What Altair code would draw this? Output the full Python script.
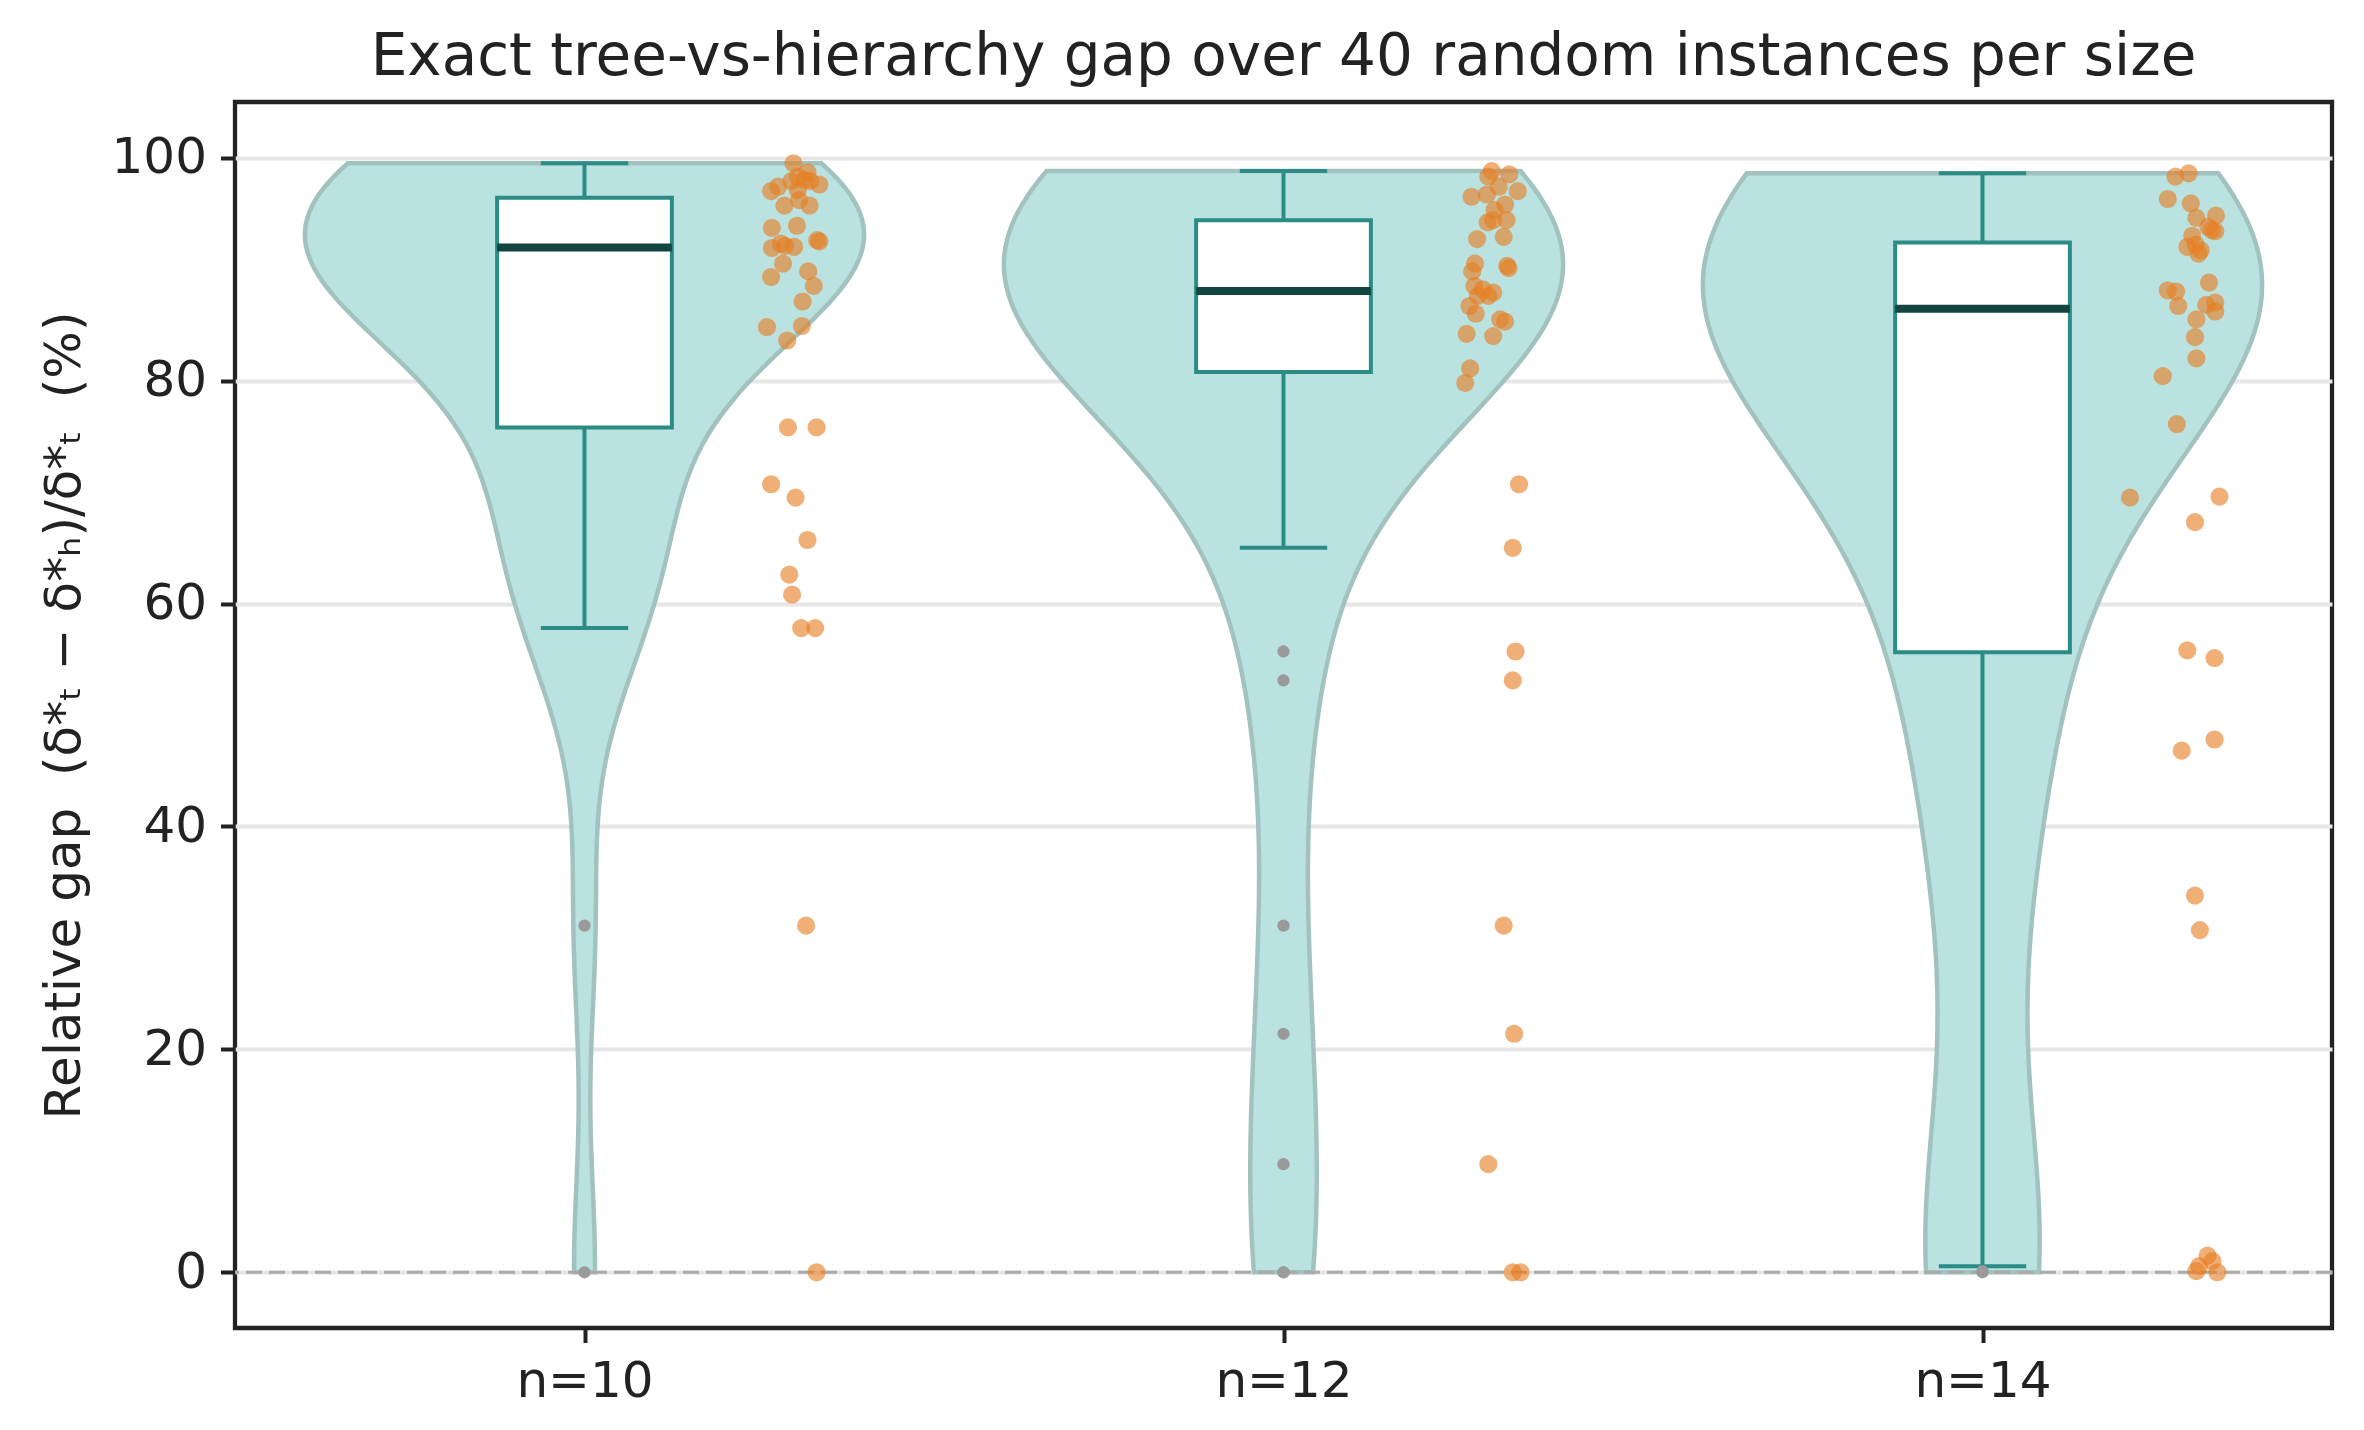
import altair as alt
import numpy as np
import pandas as pd

# ---------------- data ----------------
labels = ["n=10", "n=12", "n=14"]

vals_10 = [99.5, 98.7, 98.0, 97.9, 97.9, 97.6, 97.4, 97.0, 97.1, 95.7,
           96.2, 95.7, 93.7, 93.9, 92.6, 92.5, 91.9, 92.3, 92.1, 90.5,
           89.3, 89.8, 88.5, 87.1, 84.8, 84.9, 83.6, 98.3, 92.0,
           75.8, 75.8, 70.7, 69.5, 65.7, 62.6, 60.8, 57.8, 57.8, 31.1, 0.0]
jit_10 = [0.299, 0.319, 0.315, 0.323, 0.296, 0.336, 0.277, 0.267, 0.305, 0.286,
          0.307, 0.322, 0.268, 0.304, 0.333, 0.336, 0.268, 0.281, 0.287, 0.284,
          0.267, 0.320, 0.328, 0.312, 0.261, 0.311, 0.290, 0.305, 0.300,
          0.291, 0.332, 0.267, 0.302, 0.319, 0.293, 0.297, 0.310, 0.330, 0.317, 0.332]

vals_12 = [98.8, 98.3, 98.5, 97.4, 97.0, 96.5, 96.7, 95.8, 95.3, 94.2,
           94.4, 94.4, 92.7, 92.9, 90.5, 89.8, 90.3, 90.1, 88.5, 87.6,
           87.6, 86.7, 85.5, 85.3, 84.2, 84.0, 81.1, 79.8, 87.9, 88.2, 86.0,
           70.7, 65.0, 55.7, 53.1, 31.1, 21.4, 9.7, 0.0, 0.0]
jit_12 = [0.298, 0.293, 0.323, 0.308, 0.335, 0.269, 0.291, 0.317, 0.302, 0.292,
          0.300, 0.319, 0.277, 0.315, 0.274, 0.270, 0.320, 0.322, 0.273, 0.278,
          0.293, 0.266, 0.310, 0.317, 0.262, 0.300, 0.267, 0.260, 0.300, 0.285, 0.275,
          0.337, 0.328, 0.332, 0.328, 0.315, 0.330, 0.293, 0.328, 0.339]

vals_14 = [98.3, 98.6, 96.3, 95.9, 94.6, 94.8, 93.8, 93.4, 93.5, 92.0,
           92.2, 91.4, 91.7, 88.1, 88.0, 86.7, 88.8, 86.8, 87.0, 86.2,
           85.5, 83.9, 82.0, 80.4, 76.1, 93.0,
           69.5, 69.6, 67.3, 55.8, 55.1, 47.8, 46.8, 33.8, 30.7,
           0.1, 0.55, 1.5, 1.0, 0.0]
jit_14 = [0.276, 0.295, 0.265, 0.298, 0.306, 0.334, 0.323, 0.333, 0.328, 0.293,
          0.305, 0.309, 0.312, 0.265, 0.277, 0.280, 0.324, 0.320, 0.333, 0.333,
          0.306, 0.304, 0.306, 0.258, 0.278, 0.300,
          0.211, 0.339, 0.304, 0.293, 0.332, 0.332, 0.285, 0.304, 0.311,
          0.306, 0.310, 0.322, 0.329, 0.336]

y_ticks = [0, 20, 40, 60, 80, 100]
title_text = "Exact tree-vs-hierarchy gap over 40 random instances per size"
y_title = "Relative gap\u00a0\u00a0(δ*ₜ − δ*ₕ)/δ*ₜ\u00a0\u00a0(%)"

groups = [vals_10, vals_12, vals_14]
jitters = [jit_10, jit_12, jit_14]

rows = []
for i, (vs, js) in enumerate(zip(groups, jitters)):
    for v, j in zip(vs, js):
        rows.append({"group": labels[i], "pos": i, "value": v, "jit": j})
df = pd.DataFrame(rows)

# ---------------- styling ----------------
FONT = "DejaVu Sans"
INK = "#222222"
TEAL = "#2a8c84"
DARK = "#134540"
VIOLIN_FILL = "#bae2e0"
VIOLIN_EDGE = "#a2c2bf"
ORANGE = "#e67e22"
GREY = "#9a9a9a"

W, H = 2097, 1226
VIOLIN_HALF = 0.4
BOX_HALF = 0.125
CAP_HALF = 0.0625

xscale = alt.Scale(domain=[-0.5, 2.5], nice=False, zero=False)
yscale = alt.Scale(domain=[-5, 105], nice=False, zero=False)

label_expr = "[" + ",".join("'%s'" % l for l in labels) + "][datum.value]"
xaxis = alt.Axis(values=list(range(len(labels))), labelExpr=label_expr, grid=False,
                 domain=False, tickSize=14.5, tickWidth=4, tickColor=INK,
                 labelFontSize=50, labelFont=FONT, labelColor=INK, labelPadding=14,
                 title=None)
yaxis = alt.Axis(values=y_ticks, format="d", grid=True, gridColor="#e6e6e6", gridWidth=4,
                 domain=False, tickSize=14.5, tickWidth=4, tickColor=INK,
                 labelFontSize=50, labelFont=FONT, labelColor=INK, labelPadding=14,
                 title=y_title, titleFontSize=50, titleFont=FONT, titleFontWeight="normal",
                 titleColor=INK, titleAngle=270, titleX=-156, titleY=H / 2,
                 titleAlign="center", titleBaseline="alphabetic")


def X(field, **kw):
    return alt.X(field, type="quantitative", scale=xscale, axis=xaxis, **kw)


def Y(field, **kw):
    return alt.Y(field, type="quantitative", scale=yscale, axis=yaxis, **kw)


base = alt.Chart(df)

# violins (Gaussian KDE, Scott's rule, clipped to data range)
violins = []
for i, vs in enumerate(groups):
    arr = np.asarray(vs, dtype=float)
    bw = float(arr.std(ddof=1) * len(arr) ** (-0.2))
    v = (
        base.transform_filter("datum.pos == %d" % i)
        .transform_density("value", as_=["value", "density"], bandwidth=bw,
                           extent=[float(arr.min()), float(arr.max())], steps=200)
        .transform_joinaggregate(dmax="max(density)")
        .transform_calculate(
            xlo="%d - %f * datum.density / datum.dmax" % (i, VIOLIN_HALF),
            xhi="%d + %f * datum.density / datum.dmax" % (i, VIOLIN_HALF),
        )
        .mark_area(orient="horizontal", fill=VIOLIN_FILL, stroke=VIOLIN_EDGE,
                   strokeWidth=4.5, opacity=1)
        .encode(y=Y("value"), x=X("xlo"), x2="xhi:Q")
    )
    violins.append(v)

zero_line = (
    alt.Chart(pd.DataFrame({"y": [0]}))
    .mark_rule(color="#aaaaaa", strokeWidth=3, strokeDash=[16, 7])
    .encode(y=Y("y"))
)

fenced = (
    base.transform_joinaggregate(q1="q1(value)", q3="q3(value)", groupby=["pos"])
    .transform_calculate(lo="datum.q1 - 1.5 * (datum.q3 - datum.q1)",
                         hi="datum.q3 + 1.5 * (datum.q3 - datum.q1)")
)

whisk = (
    fenced.transform_filter("datum.value >= datum.lo && datum.value <= datum.hi")
    .transform_aggregate(wmin="min(value)", wmax="max(value)", q1="min(q1)", q3="min(q3)",
                         groupby=["pos"])
    .transform_calculate(cl="datum.pos - %f" % CAP_HALF, cr="datum.pos + %f" % CAP_HALF)
)

w_low = whisk.mark_rule(color=TEAL, strokeWidth=4).encode(x=X("pos"), y=Y("wmin"), y2="q1:Q")
w_high = whisk.mark_rule(color=TEAL, strokeWidth=4).encode(x=X("pos"), y=Y("q3"), y2="wmax:Q")
cap_low = whisk.mark_rule(color=TEAL, strokeWidth=4).encode(x=X("cl"), x2="cr:Q", y=Y("wmin"))
cap_high = whisk.mark_rule(color=TEAL, strokeWidth=4).encode(x=X("cl"), x2="cr:Q", y=Y("wmax"))

stats = (
    base.transform_aggregate(q1="q1(value)", q3="q3(value)", med="median(value)",
                             groupby=["pos"])
    .transform_calculate(xl="datum.pos - %f" % BOX_HALF, xr="datum.pos + %f" % BOX_HALF)
)
box = stats.mark_rect(fill="white", stroke=TEAL, strokeWidth=4).encode(
    x=X("xl"), x2="xr:Q", y=Y("q1"), y2="q3:Q")
median = stats.mark_rule(color=DARK, strokeWidth=8).encode(x=X("xl"), x2="xr:Q", y=Y("med"))

outliers = (
    fenced.transform_filter("datum.value < datum.lo || datum.value > datum.hi")
    .mark_circle(color=GREY, size=150, opacity=1)
    .encode(x=X("pos"), y=Y("value"))
)

points = (
    base.transform_calculate(xp="datum.pos + datum.jit")
    .mark_circle(color=ORANGE, size=330, opacity=0.62)
    .encode(x=X("xp"), y=Y("value"))
)

chart = (
    alt.layer(*violins, zero_line, w_low, w_high, cap_low, cap_high, box, median,
              outliers, points)
    .properties(
        width=W, height=H,
        title=alt.TitleParams(title_text, fontSize=58, font=FONT, fontWeight="normal",
                              color=INK, anchor="middle", frame="group",
                              baseline="alphabetic", offset=28, dy=59),
        autosize=alt.AutoSizeParams(type="none"),
        padding={"left": 227, "top": 94, "right": 24, "bottom": 93},
        background="white",
    )
    .configure_view(stroke=INK, strokeWidth=4.3)
)

chart.save("out.html", embed_options={"renderer": "svg", "actions": False})
